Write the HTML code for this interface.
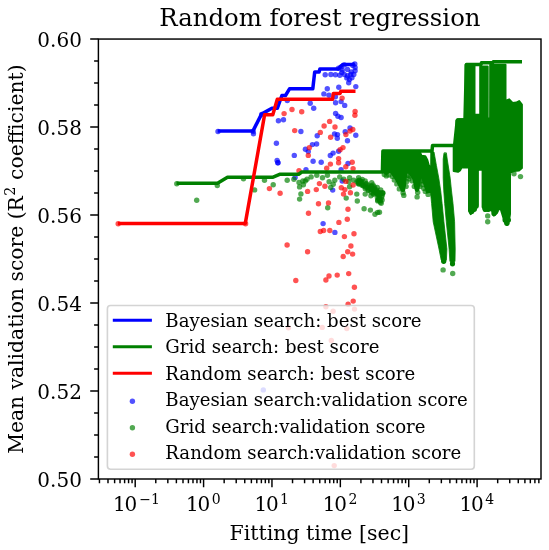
<!DOCTYPE html>
<html><head><meta charset="utf-8"><title>Random forest regression</title>
<style>html,body{margin:0;padding:0;background:#fff}body{width:549px;height:550px;overflow:hidden}</style>
</head><body>
<svg width="549" height="550" viewBox="0 0 549 550" style="display:block;font-family:'DejaVu Serif','Liberation Serif',serif">
<rect width="549" height="550" fill="#fff"/>
<clipPath id="ax"><rect x="98.4" y="39.05" width="442.6" height="439.95"/></clipPath>
<g clip-path="url(#ax)">
<g fill="#0000ff" fill-opacity="0.68"><circle cx="278.4" cy="120.7" r="2.7"/><circle cx="283.5" cy="119.7" r="2.7"/><circle cx="276.4" cy="143.3" r="2.7"/><circle cx="300.9" cy="131.5" r="2.7"/><circle cx="294.3" cy="155.4" r="2.7"/><circle cx="317.2" cy="135.7" r="2.7"/><circle cx="312.4" cy="144.6" r="2.7"/><circle cx="316.6" cy="144.0" r="2.7"/><circle cx="305.4" cy="149.3" r="2.7"/><circle cx="308.3" cy="151.6" r="2.7"/><circle cx="310.2" cy="103.2" r="2.7"/><circle cx="313.7" cy="108.3" r="2.7"/><circle cx="287.3" cy="100.6" r="2.7"/><circle cx="253.5" cy="133.8" r="2.7"/><circle cx="277.1" cy="160.4" r="2.7"/><circle cx="313.1" cy="161.3" r="2.7"/><circle cx="321.2" cy="162.2" r="2.7"/><circle cx="330.3" cy="155.5" r="2.7"/><circle cx="333.1" cy="153.1" r="2.7"/><circle cx="338.6" cy="151.3" r="2.7"/><circle cx="348.0" cy="163.5" r="2.7"/><circle cx="342.2" cy="181.0" r="2.7"/><circle cx="332.7" cy="190.1" r="2.7"/><circle cx="323.1" cy="223.6" r="2.7"/><circle cx="334.9" cy="232.4" r="2.7"/><circle cx="325.2" cy="74.8" r="2.7"/><circle cx="330.9" cy="74.5" r="2.7"/><circle cx="335.4" cy="74.8" r="2.7"/><circle cx="339.8" cy="75.2" r="2.7"/><circle cx="344.3" cy="74.5" r="2.7"/><circle cx="347.5" cy="75.8" r="2.7"/><circle cx="350.7" cy="74.5" r="2.7"/><circle cx="353.8" cy="74.5" r="2.7"/><circle cx="351.3" cy="72.0" r="2.7"/><circle cx="355.1" cy="70.7" r="2.7"/><circle cx="355.1" cy="67.5" r="2.7"/><circle cx="349.4" cy="79.6" r="2.7"/><circle cx="348.7" cy="82.8" r="2.7"/><circle cx="351.9" cy="77.7" r="2.7"/><circle cx="338.5" cy="68.2" r="2.7"/><circle cx="341.1" cy="66.9" r="2.7"/><circle cx="344.3" cy="65.0" r="2.7"/><circle cx="347.5" cy="69.4" r="2.7"/><circle cx="355.8" cy="86.6" r="2.7"/><circle cx="338.8" cy="87.3" r="2.7"/><circle cx="327.3" cy="88.8" r="2.7"/><circle cx="323.9" cy="93.9" r="2.7"/><circle cx="329.0" cy="95.2" r="2.7"/><circle cx="335.4" cy="96.8" r="2.7"/><circle cx="335.6" cy="102.8" r="2.7"/><circle cx="341.1" cy="101.6" r="2.7"/><circle cx="344.7" cy="105.4" r="2.7"/><circle cx="335.6" cy="113.4" r="2.7"/><circle cx="337.9" cy="116.3" r="2.7"/><circle cx="341.1" cy="117.5" r="2.7"/><circle cx="334.5" cy="134.0" r="2.7"/><circle cx="337.5" cy="134.6" r="2.7"/><circle cx="337.3" cy="138.2" r="2.7"/><circle cx="350.0" cy="128.0" r="2.7"/><circle cx="345.2" cy="131.8" r="2.7"/><circle cx="355.8" cy="135.3" r="2.7"/><circle cx="347.5" cy="140.7" r="2.7"/><circle cx="306.0" cy="169.7" r="2.7"/><circle cx="341.1" cy="169.7" r="2.7"/><circle cx="277.9" cy="162.7" r="2.7"/><circle cx="295.1" cy="177.4" r="2.7"/><circle cx="218.0" cy="131.5" r="2.7"/><circle cx="253.2" cy="131.5" r="2.7"/><circle cx="261.7" cy="114.5" r="2.7"/><circle cx="342.3" cy="69.9" r="2.7"/><circle cx="352.8" cy="65.4" r="2.7"/><circle cx="354.8" cy="63.9" r="2.7"/><circle cx="341.8" cy="72.4" r="2.7"/><circle cx="346.8" cy="77.9" r="2.7"/><circle cx="277.9" cy="162.7" r="2.7"/></g>
<g fill="#008000" stroke="#008000" stroke-linejoin="round" stroke-linecap="round">
<path stroke-width="2" d="M384,152 L420,152 L421.5,155.8 L425.3,156.2 L427.3,160 L428.8,165.5 L430.5,166.5 L430.5,192 L427.7,192 L425.5,188 L422.5,178.5 L421,177 L420,179 L418.7,188 L417,190.5 L415.3,188 L413.5,179.5 L410,174 L407.5,172 L406.3,174 L404.8,187 L402.8,190.5 L400.5,188 L396,179.5 L391,172.5 L389,171.5 L388,173 L386,174 L384,172.5 Z"/>
<path stroke-width="0.8" d="M431,152 L434,152 L436.4,165.4 L438.8,178.2 L440.7,190.9 L442.1,203.6 L443.9,221.8 L446.9,249 L446.4,260 L443.7,263.5 L441.2,260 L439,249 L433.2,221.8 L431.6,203.6 L430.5,192 Z"/>
<path stroke-width="0.8" d="M444,153.2 L443.2,159 L443.2,178.2 L443.8,190.9 L444.7,203.6 L446.3,221.8 L449.1,249 L449.9,261 L452.5,265.8 L455,261 L455.2,249 L454.6,221.8 L453,203.6 L451.5,190.9 L450.2,178.2 L447.2,159 L446.4,153.2 Z"/>
<path stroke-width="2" d="M453.7,171 L453.7,147 L456.5,146 L456.5,120.8 L458,119.3 L465.6,119.3 L465.6,64.7 L474.5,64.7 L474.5,114.8 L480.2,114.8 L480.2,66.5 L487.7,66.5 L487.7,118.4 L490.1,118.4 L490.2,64.7 L505.5,64.7 L505.5,101 L509.2,99.3 L512.5,103 L516.5,102.5 L519.2,101 L521.9,104.5 L521.9,168 L519,170.5 L514,171 L510,172.5 L510,214 L508.8,221.5 L506.9,225 L504.5,221.5 L501,210 L498.5,208.6 L497,213 L493.9,215.5 L492,211 L490.5,210 L488,210.7 L484.5,210.7 L482.6,207 L482.6,169.7 L477.9,169.7 L477.9,205 L474,211 L470.7,214.1 L469,211 L469,167.6 L461.5,167.6 L460,170.5 L458,171.8 Z"/>
<circle cx="443.7" cy="261.3" r="2.6" stroke="none"/>
<circle cx="452.5" cy="263.8" r="2.6" stroke="none"/>
<circle cx="471.6" cy="211.6" r="2.7" stroke="none"/>
<circle cx="474.2" cy="209.3" r="2.7" stroke="none"/>
<circle cx="476.2" cy="206.3" r="2.5" stroke="none"/>
<circle cx="485.2" cy="209.3" r="2.6" stroke="none"/>
<circle cx="488.2" cy="209.3" r="2.6" stroke="none"/>
<circle cx="494" cy="213.6" r="2.6" stroke="none"/>
<circle cx="496.2" cy="211" r="2.4" stroke="none"/>
<circle cx="506.9" cy="223.2" r="2.7" stroke="none"/>
<circle cx="505.2" cy="220" r="2.7" stroke="none"/>
<circle cx="508.4" cy="220" r="2.6" stroke="none"/>
<circle cx="402.8" cy="189.5" r="2.5" stroke="none"/>
<circle cx="417" cy="189.5" r="2.4" stroke="none"/>
<circle cx="427.8" cy="191" r="2.4" stroke="none"/>
</g>
<g fill="#008000" fill-opacity="0.68"><circle cx="196.7" cy="200.3" r="2.7"/><circle cx="176.8" cy="183.7" r="2.7"/><circle cx="217.3" cy="185.6" r="2.7"/><circle cx="254.6" cy="189.9" r="2.7"/><circle cx="273.2" cy="184.8" r="2.7"/><circle cx="264.5" cy="180.2" r="2.7"/><circle cx="287.2" cy="180.2" r="2.7"/><circle cx="293.9" cy="179.3" r="2.7"/><circle cx="299.0" cy="182.5" r="2.7"/><circle cx="299.6" cy="186.9" r="2.7"/><circle cx="303.4" cy="184.8" r="2.7"/><circle cx="305.3" cy="180.9" r="2.7"/><circle cx="300.9" cy="194.0" r="2.7"/><circle cx="299.6" cy="199.1" r="2.7"/><circle cx="243.5" cy="178.7" r="2.7"/><circle cx="327.7" cy="207.7" r="2.7"/><circle cx="346.2" cy="198.1" r="2.7"/><circle cx="357.3" cy="201.0" r="2.7"/><circle cx="356.8" cy="194.1" r="2.7"/><circle cx="364.1" cy="208.7" r="2.7"/><circle cx="370.4" cy="210.1" r="2.7"/><circle cx="375.0" cy="214.2" r="2.7"/><circle cx="379.5" cy="212.3" r="2.7"/><circle cx="380.4" cy="202.3" r="2.7"/><circle cx="302.9" cy="181.0" r="2.7"/><circle cx="307.0" cy="179.3" r="2.7"/><circle cx="311.1" cy="176.9" r="2.7"/><circle cx="316.8" cy="175.2" r="2.7"/><circle cx="322.5" cy="177.7" r="2.7"/><circle cx="327.4" cy="175.2" r="2.7"/><circle cx="329.1" cy="181.8" r="2.7"/><circle cx="334.8" cy="180.2" r="2.7"/><circle cx="333.2" cy="184.3" r="2.7"/><circle cx="330.7" cy="187.5" r="2.7"/><circle cx="339.7" cy="176.9" r="2.7"/><circle cx="343.8" cy="179.3" r="2.7"/><circle cx="349.6" cy="177.7" r="2.7"/><circle cx="348.8" cy="181.8" r="2.7"/><circle cx="353.7" cy="180.2" r="2.7"/><circle cx="349.6" cy="186.7" r="2.7"/><circle cx="358.6" cy="177.7" r="2.7"/><circle cx="357.0" cy="181.8" r="2.7"/><circle cx="361.1" cy="181.8" r="2.7"/><circle cx="363.5" cy="185.1" r="2.7"/><circle cx="365.2" cy="181.0" r="2.7"/><circle cx="368.4" cy="185.1" r="2.7"/><circle cx="371.7" cy="182.6" r="2.7"/><circle cx="370.1" cy="188.4" r="2.7"/><circle cx="374.2" cy="186.7" r="2.7"/><circle cx="376.6" cy="190.0" r="2.7"/><circle cx="378.3" cy="192.4" r="2.7"/><circle cx="380.7" cy="190.0" r="2.7"/><circle cx="382.4" cy="193.3" r="2.7"/><circle cx="381.5" cy="197.4" r="2.7"/><circle cx="379.9" cy="200.6" r="2.7"/><circle cx="373.3" cy="193.3" r="2.7"/><circle cx="370.9" cy="195.7" r="2.7"/><circle cx="365.2" cy="194.1" r="2.7"/><circle cx="373.0" cy="185.0" r="2.7"/><circle cx="377.6" cy="212.4" r="2.7"/><circle cx="366.3" cy="183.4" r="2.7"/><circle cx="367.3" cy="187.4" r="2.7"/><circle cx="371.3" cy="185.9" r="2.7"/><circle cx="374.8" cy="189.9" r="2.7"/><circle cx="377.3" cy="187.4" r="2.7"/><circle cx="379.3" cy="195.4" r="2.7"/><circle cx="362.3" cy="179.4" r="2.7"/><circle cx="359.3" cy="183.9" r="2.7"/><circle cx="375.8" cy="192.9" r="2.7"/><circle cx="378.8" cy="198.4" r="2.7"/><circle cx="382.1" cy="199.9" r="2.7"/><circle cx="443.1" cy="269.9" r="2.7"/><circle cx="452.7" cy="273.5" r="2.7"/><circle cx="487.7" cy="215.9" r="2.7"/><circle cx="487.7" cy="221.7" r="2.7"/><circle cx="520.5" cy="176.6" r="2.7"/><circle cx="514.0" cy="173.8" r="2.7"/><circle cx="403.1" cy="192.9" r="2.7"/><circle cx="399.3" cy="188.9" r="2.7"/><circle cx="396.8" cy="183.9" r="2.7"/><circle cx="394.3" cy="179.9" r="2.7"/><circle cx="392.3" cy="176.4" r="2.7"/><circle cx="417.7" cy="192.4" r="2.7"/><circle cx="414.3" cy="186.4" r="2.7"/><circle cx="412.3" cy="180.9" r="2.7"/><circle cx="409.8" cy="176.4" r="2.7"/><circle cx="407.8" cy="175.4" r="2.7"/><circle cx="408.8" cy="178.9" r="2.7"/><circle cx="406.8" cy="181.4" r="2.7"/><circle cx="419.8" cy="186.4" r="2.7"/><circle cx="420.8" cy="181.4" r="2.7"/><circle cx="421.8" cy="180.4" r="2.7"/><circle cx="422.3" cy="184.4" r="2.7"/><circle cx="423.8" cy="188.4" r="2.7"/><circle cx="428.1" cy="194.4" r="2.7"/><circle cx="425.3" cy="191.4" r="2.7"/><circle cx="386.3" cy="175.9" r="2.7"/><circle cx="388.8" cy="174.9" r="2.7"/><circle cx="384.3" cy="174.4" r="2.7"/><circle cx="406.1" cy="186.4" r="2.7"/><circle cx="417.1" cy="196.9" r="2.7"/><circle cx="403.8" cy="195.4" r="2.7"/><circle cx="365.7" cy="184.1" r="2.7"/><circle cx="374.2" cy="188.2" r="2.7"/><circle cx="371.2" cy="188.7" r="2.7"/><circle cx="358.8" cy="182.9" r="2.7"/><circle cx="358.3" cy="182.1" r="2.7"/><circle cx="359.1" cy="180.1" r="2.7"/><circle cx="368.3" cy="190.4" r="2.7"/><circle cx="360.5" cy="181.8" r="2.7"/><circle cx="373.6" cy="194.2" r="2.7"/><circle cx="372.3" cy="189.5" r="2.7"/><circle cx="382.7" cy="192.7" r="2.7"/><circle cx="379.6" cy="192.8" r="2.7"/><circle cx="361.1" cy="181.3" r="2.7"/><circle cx="365.3" cy="188.7" r="2.7"/><circle cx="362.0" cy="185.2" r="2.7"/><circle cx="373.9" cy="190.2" r="2.7"/><circle cx="371.5" cy="186.7" r="2.7"/><circle cx="358.8" cy="180.7" r="2.7"/><circle cx="375.0" cy="191.2" r="2.7"/><circle cx="365.5" cy="187.1" r="2.7"/><circle cx="369.1" cy="187.0" r="2.7"/><circle cx="378.0" cy="194.8" r="2.7"/><circle cx="363.6" cy="186.0" r="2.7"/><circle cx="371.0" cy="192.2" r="2.7"/><circle cx="376.3" cy="190.9" r="2.7"/><circle cx="382.8" cy="193.3" r="2.7"/><circle cx="368.2" cy="189.8" r="2.7"/><circle cx="361.3" cy="184.1" r="2.7"/><circle cx="358.3" cy="183.8" r="2.7"/><circle cx="377.2" cy="193.5" r="2.7"/><circle cx="380.1" cy="193.2" r="2.7"/><circle cx="375.4" cy="192.6" r="2.7"/><circle cx="372.4" cy="190.0" r="2.7"/><circle cx="379.1" cy="197.2" r="2.7"/><circle cx="380.1" cy="199.7" r="2.7"/><circle cx="377.7" cy="200.1" r="2.7"/><circle cx="381.2" cy="203.3" r="2.7"/><circle cx="382.2" cy="195.5" r="2.7"/><circle cx="379.6" cy="199.8" r="2.7"/><circle cx="377.4" cy="197.5" r="2.7"/><circle cx="378.3" cy="193.7" r="2.7"/><circle cx="377.7" cy="200.9" r="2.7"/></g>
<g fill="#ff0000" fill-opacity="0.68"><circle cx="292.0" cy="109.5" r="2.7"/><circle cx="284.1" cy="113.6" r="2.7"/><circle cx="301.7" cy="111.8" r="2.7"/><circle cx="294.7" cy="130.6" r="2.7"/><circle cx="309.3" cy="147.8" r="2.7"/><circle cx="308.3" cy="155.4" r="2.7"/><circle cx="320.3" cy="132.4" r="2.7"/><circle cx="338.6" cy="158.6" r="2.7"/><circle cx="338.6" cy="162.8" r="2.7"/><circle cx="352.2" cy="162.2" r="2.7"/><circle cx="330.4" cy="164.1" r="2.7"/><circle cx="326.7" cy="168.3" r="2.7"/><circle cx="345.8" cy="166.8" r="2.7"/><circle cx="353.1" cy="168.6" r="2.7"/><circle cx="345.8" cy="181.4" r="2.7"/><circle cx="319.4" cy="183.6" r="2.7"/><circle cx="324.9" cy="186.3" r="2.7"/><circle cx="353.1" cy="185.0" r="2.7"/><circle cx="316.3" cy="189.6" r="2.7"/><circle cx="307.6" cy="191.4" r="2.7"/><circle cx="341.3" cy="187.7" r="2.7"/><circle cx="344.9" cy="189.6" r="2.7"/><circle cx="350.4" cy="192.7" r="2.7"/><circle cx="343.5" cy="194.1" r="2.7"/><circle cx="318.5" cy="203.8" r="2.7"/><circle cx="328.5" cy="202.9" r="2.7"/><circle cx="348.0" cy="209.2" r="2.7"/><circle cx="308.5" cy="213.2" r="2.7"/><circle cx="347.3" cy="219.3" r="2.7"/><circle cx="338.9" cy="222.4" r="2.7"/><circle cx="320.3" cy="231.5" r="2.7"/><circle cx="323.6" cy="230.5" r="2.7"/><circle cx="329.8" cy="230.5" r="2.7"/><circle cx="354.0" cy="233.8" r="2.7"/><circle cx="344.4" cy="236.6" r="2.7"/><circle cx="350.9" cy="246.0" r="2.7"/><circle cx="307.6" cy="251.7" r="2.7"/><circle cx="342.1" cy="98.1" r="2.7"/><circle cx="355.1" cy="111.5" r="2.7"/><circle cx="354.9" cy="115.3" r="2.7"/><circle cx="329.6" cy="121.4" r="2.7"/><circle cx="324.1" cy="126.0" r="2.7"/><circle cx="335.0" cy="127.0" r="2.7"/><circle cx="330.6" cy="137.2" r="2.7"/><circle cx="352.8" cy="129.5" r="2.7"/><circle cx="350.0" cy="131.1" r="2.7"/><circle cx="345.9" cy="134.6" r="2.7"/><circle cx="343.0" cy="147.6" r="2.7"/><circle cx="340.1" cy="149.7" r="2.7"/><circle cx="269.4" cy="188.6" r="2.7"/><circle cx="280.1" cy="193.3" r="2.7"/><circle cx="299.0" cy="170.7" r="2.7"/><circle cx="287.1" cy="245.0" r="2.7"/><circle cx="347.7" cy="251.8" r="2.7"/><circle cx="343.2" cy="256.5" r="2.7"/><circle cx="295.8" cy="280.5" r="2.7"/><circle cx="325.9" cy="280.0" r="2.7"/><circle cx="329.0" cy="276.0" r="2.7"/><circle cx="337.2" cy="275.1" r="2.7"/><circle cx="348.7" cy="273.6" r="2.7"/><circle cx="352.6" cy="254.1" r="2.7"/><circle cx="354.4" cy="287.2" r="2.7"/><circle cx="353.2" cy="301.1" r="2.7"/><circle cx="348.1" cy="304.2" r="2.7"/><circle cx="118.2" cy="223.8" r="2.7"/><circle cx="245.6" cy="223.8" r="2.7"/></g>
<path d="M217.7,131.1 L252.9,131.1 L261.5,114.1 L271.9,108.3 L277.3,108.3 L281.9,95.5 L285.5,95.5 L289.5,88.8 L312.8,88.8 L314.7,72.0 L319.1,72.0 L319.9,69.0 L338.2,69.0 L342.7,64.6 L352.3,64.6 L354.8,63.5" fill="none" stroke="#0000ff" stroke-width="3.5" stroke-linejoin="round" stroke-linecap="butt"/>
<path d="M176.5,183.3 L217.5,183.3 L227.5,177.3 L272.5,177.3 L280.2,174.2 L298.7,174.2 L301.8,172.0 L382.4,172.0 L382.9,151.0 L432.0,151.0 L432.5,145.6 L454.6,145.6 L457.3,120.1 L465.0,120.1 L466.4,64.6 L481.0,64.6 L481.5,62.8 L492.8,62.8 L493.3,61.8 L522.0,61.8" fill="none" stroke="#008000" stroke-width="3.5" stroke-linejoin="round" stroke-linecap="butt"/>
<path d="M117.9,223.4 L245.3,223.4 L264.6,114.7 L272.8,114.7 L277.3,99.3 L332.6,99.3 L333.3,93.4 L340.1,93.4 L340.9,91.2 L355.5,91.2" fill="none" stroke="#ff0000" stroke-width="3.5" stroke-linejoin="round" stroke-linecap="butt"/>
</g>
<rect x="98.4" y="39.05" width="442.6" height="439.95" fill="none" stroke="#000" stroke-width="1.45"/>
<path d="M98.4,479.00 h-8.2 M98.4,391.01 h-8.2 M98.4,303.02 h-8.2 M98.4,215.03 h-8.2 M98.4,127.04 h-8.2 M98.4,39.05 h-8.2 M98.4,457.00 h-4.3 M98.4,435.00 h-4.3 M98.4,413.01 h-4.3 M98.4,369.01 h-4.3 M98.4,347.01 h-4.3 M98.4,325.02 h-4.3 M98.4,281.02 h-4.3 M98.4,259.02 h-4.3 M98.4,237.03 h-4.3 M98.4,193.03 h-4.3 M98.4,171.03 h-4.3 M98.4,149.04 h-4.3 M98.4,105.04 h-4.3 M98.4,83.05 h-4.3 M98.4,61.05 h-4.3 M135.20,479.0 v8.2 M203.58,479.0 v8.2 M271.96,479.0 v8.2 M340.34,479.0 v8.2 M408.72,479.0 v8.2 M477.10,479.0 v8.2 M99.45,479.0 v4.3 M107.99,479.0 v4.3 M114.62,479.0 v4.3 M120.03,479.0 v4.3 M124.61,479.0 v4.3 M128.57,479.0 v4.3 M132.07,479.0 v4.3 M155.78,479.0 v4.3 M167.83,479.0 v4.3 M176.37,479.0 v4.3 M183.00,479.0 v4.3 M188.41,479.0 v4.3 M192.99,479.0 v4.3 M196.95,479.0 v4.3 M200.45,479.0 v4.3 M224.16,479.0 v4.3 M236.21,479.0 v4.3 M244.75,479.0 v4.3 M251.38,479.0 v4.3 M256.79,479.0 v4.3 M261.37,479.0 v4.3 M265.33,479.0 v4.3 M268.83,479.0 v4.3 M292.54,479.0 v4.3 M304.59,479.0 v4.3 M313.13,479.0 v4.3 M319.76,479.0 v4.3 M325.17,479.0 v4.3 M329.75,479.0 v4.3 M333.71,479.0 v4.3 M337.21,479.0 v4.3 M360.92,479.0 v4.3 M372.97,479.0 v4.3 M381.51,479.0 v4.3 M388.14,479.0 v4.3 M393.55,479.0 v4.3 M398.13,479.0 v4.3 M402.09,479.0 v4.3 M405.59,479.0 v4.3 M429.30,479.0 v4.3 M441.35,479.0 v4.3 M449.89,479.0 v4.3 M456.52,479.0 v4.3 M461.93,479.0 v4.3 M466.51,479.0 v4.3 M470.47,479.0 v4.3 M473.97,479.0 v4.3 M497.68,479.0 v4.3 M509.73,479.0 v4.3 M518.27,479.0 v4.3 M524.90,479.0 v4.3 M530.31,479.0 v4.3 M534.89,479.0 v4.3 M538.85,479.0 v4.3" stroke="#000" stroke-width="1.45" fill="none"/>
<g font-size="20.0" fill="#000">
<text x="81.9" y="487.10" text-anchor="end">0.50</text>
<text x="81.9" y="399.11" text-anchor="end">0.52</text>
<text x="81.9" y="311.12" text-anchor="end">0.54</text>
<text x="81.9" y="223.13" text-anchor="end">0.56</text>
<text x="81.9" y="135.14" text-anchor="end">0.58</text>
<text x="81.9" y="47.15" text-anchor="end">0.60</text>
<text x="113.00" y="510.7"><tspan letter-spacing="-1.2">10</tspan><tspan dy="-6.3" dx="3.3" font-size="14.00">−1</tspan></text>
<text x="186.08" y="510.7"><tspan letter-spacing="-1.2">10</tspan><tspan dy="-6.3" dx="2.5" font-size="14.00">0</tspan></text>
<text x="254.46" y="510.7"><tspan letter-spacing="-1.2">10</tspan><tspan dy="-6.3" dx="2.5" font-size="14.00">1</tspan></text>
<text x="322.84" y="510.7"><tspan letter-spacing="-1.2">10</tspan><tspan dy="-6.3" dx="2.5" font-size="14.00">2</tspan></text>
<text x="391.22" y="510.7"><tspan letter-spacing="-1.2">10</tspan><tspan dy="-6.3" dx="2.5" font-size="14.00">3</tspan></text>
<text x="459.60" y="510.7"><tspan letter-spacing="-1.2">10</tspan><tspan dy="-6.3" dx="2.5" font-size="14.00">4</tspan></text>
</g>
<text x="319.3" y="540.2" font-size="20.5" text-anchor="middle">Fitting time [sec]</text>
<g transform="translate(22.7,258.8) rotate(-90)" font-size="20.3"><text x="-195.0" y="0">Mean validation score (R<tspan dy="-7.4" dx="0.3" font-size="14.2">2</tspan><tspan dy="7.4" dx="0.5"> coefficient)</tspan></text></g>
<text x="319.9" y="26.3" font-size="24.4" text-anchor="middle">Random forest regression</text>
<g fill="#ff0000" fill-opacity="0.68"><circle cx="325.9" cy="306.8" r="2.7"/><circle cx="333.1" cy="311.3" r="2.7"/><circle cx="354.5" cy="309.1" r="2.7"/><circle cx="288.5" cy="327.7" r="2.7"/><circle cx="322.2" cy="327.4" r="2.7"/><circle cx="346.8" cy="328.6" r="2.7"/><circle cx="331.3" cy="340.4" r="2.7"/><circle cx="334.2" cy="465.6" r="2.7"/></g><g fill="#0000ff" fill-opacity="0.68"><circle cx="348.3" cy="373.3" r="2.7"/><circle cx="263.3" cy="389.9" r="2.7"/></g><rect x="107.4" y="305.5" width="366.9" height="163.7" rx="3.2" fill="#fff" fill-opacity="0.8" stroke="#ccc" stroke-opacity="0.85" stroke-width="1.6"/>
<path d="M112.8,320.15 H151.9" stroke="#0000ff" stroke-width="3" fill="none"/>
<path d="M112.8,346.67 H151.9" stroke="#008000" stroke-width="3" fill="none"/>
<path d="M112.8,373.19 H151.9" stroke="#ff0000" stroke-width="3" fill="none"/>
<circle cx="132.4" cy="401.21" r="2.7" fill="#0000ff" fill-opacity="0.68"/>
<circle cx="132.4" cy="427.73" r="2.7" fill="#008000" fill-opacity="0.68"/>
<circle cx="132.4" cy="454.25" r="2.7" fill="#ff0000" fill-opacity="0.68"/>
<g font-size="18.15" fill="#000">
<text x="165.3" y="326.65">Bayesian search: best score</text>
<text x="165.3" y="353.17">Grid search: best score</text>
<text x="165.3" y="379.69">Random search: best score</text>
<text x="165.3" y="406.21">Bayesian search:validation score</text>
<text x="165.3" y="432.73">Grid search:validation score</text>
<text x="165.3" y="459.25">Random search:validation score</text>
</g>
</svg>
</body></html>
